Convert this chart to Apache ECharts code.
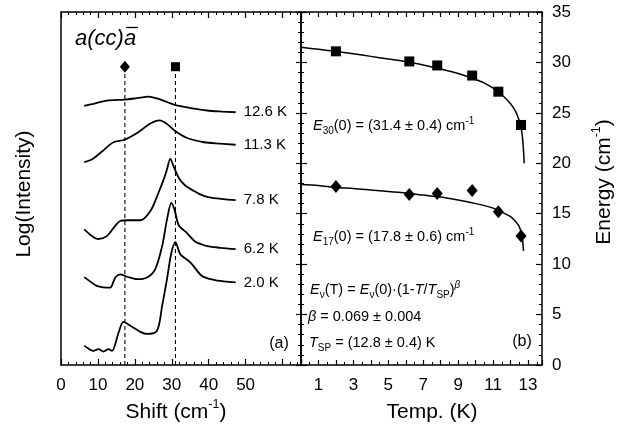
<!DOCTYPE html>
<html><head><meta charset="utf-8">
<script src="https://cdn.jsdelivr.net/npm/echarts@6/dist/echarts.min.js"></script>
<style>html,body{margin:0;padding:0;background:#fff}#c{width:626px;height:435px}</style>
</head><body><div id="c"></div>
<script>
// ---- Panel (a): Raman spectra, shift (cm-1) vs log intensity (arb., offset) ----
const spec126 = [[6.3,73.4],[8.8,74.0],[12.4,74.9],[17.2,75.2],[20.6,75.6],[23.7,76.0],[26.0,75.5],[28.7,74.5],[31.0,73.6],[35.1,72.8],[39.6,72.1],[43.7,71.8],[47.3,71.6]];
const spec113 = [[6.3,57.5],[8.3,58.2],[11.1,60.5],[14.2,63.1],[17.2,63.8],[20.6,65.7],[24.2,68.4],[26.7,69.3],[28.7,68.3],[31.0,66.2],[34.2,64.3],[38.7,63.1],[43.2,62.7],[47.3,62.4]];
const spec78 = [[6.3,38.4],[8.3,36.6],[10.1,35.7],[12.4,36.5],[14.5,39.2],[16.0,40.8],[17.9,41.0],[21.5,41.0],[24.2,43.6],[26.4,48.8],[27.8,52.5],[28.6,55.0],[29.6,58.4],[30.6,56.0],[31.9,53.0],[33.5,51.0],[36.0,49.3],[38.5,48.0],[41.4,47.3],[47.3,46.7]];
const spec62 = [[6.3,24.9],[8.0,23.6],[9.7,22.4],[11.5,22.0],[13.3,21.9],[14.7,24.8],[16.0,25.7],[17.9,25.0],[20.6,24.3],[23.3,24.8],[25.5,27.1],[27.4,33.7],[28.7,41.2],[29.9,45.9],[30.8,43.8],[31.9,39.6],[34.2,37.3],[36.4,34.9],[39.6,33.7],[43.2,33.2],[47.3,32.8]];
const spec20 = [[6.3,5.5],[7.5,4.6],[8.8,4.0],[10.1,4.5],[11.5,3.8],[12.9,4.5],[13.8,4.0],[15.6,9.2],[16.9,12.2],[18.8,11.1],[21.5,9.4],[23.3,8.8],[26.0,9.7],[27.4,16.8],[28.7,24.3],[29.9,31.8],[31.0,34.8],[32.3,31.4],[35.1,29.0],[38.2,25.2],[41.4,24.1],[44.0,23.7],[47.3,23.4]];
const specNames = ['12.6 K','11.3 K','7.8 K','6.2 K','2.0 K'];
const modeShifts = [17.3, 31.0];          // dashed guide lines (diamond, square)
const guideTop = 82.5, guideBottom = 0, markerY = 84.5;
const shiftTicks = [0,10,20,30,40,50];

// ---- Panel (b): mode energy vs temperature ----
const temps = [2.0, 6.2, 7.8, 9.8, 11.3, 12.6];
const e30 = [31.1, 30.1, 29.7, 28.7, 27.1, 23.8];
const e17 = [17.7, 16.9, 17.0, 17.3, 15.2, 12.8];
const fit30 = [[0,31.5],[1,31.3],[2,31.1],[3,30.85],[4,30.6],[5,30.35],[6,30.1],[7,29.75],[8,29.35],[9,28.9],[10,28.3],[10.5,27.95],[11,27.45],[11.5,26.8],[12,25.9],[12.3,25.1],[12.5,24.2],[12.6,23.6],[12.68,22.6],[12.74,21.3],[12.78,20.0]];
const fit17 = [[0,17.9],[1,17.8],[2,17.6],[3,17.5],[4,17.35],[5,17.2],[6,17.05],[7,16.85],[8,16.65],[9,16.35],[10,16.0],[10.5,15.8],[11,15.55],[11.5,15.15],[12,14.7],[12.3,14.2],[12.5,13.7],[12.6,13.2],[12.68,12.5],[12.74,11.3]];
const tempTicks = [1,3,5,7,9,11,13];
const energyTicks = [0,5,10,15,20,25,30,35];

const FONT = '"Liberation Sans", Arial, Helvetica, sans-serif';
const K = '#000';
const axLine = {show:true, onZero:false, lineStyle:{color:K, width:1.5}};
function tick(len){return {show:true, inside:true, length:len, lineStyle:{color:K, width:1.2}};}
function minor(n){return {show:true, splitNumber:n, length:3, lineStyle:{color:K, width:1}};}
const lbl = {color:K, fontFamily:FONT, fontSize:17};
const solid = {color:K, opacity:1};

const chart = echarts.init(document.getElementById('c'), null, {renderer:'canvas'});

const specSeries = [spec126, spec113, spec78, spec62, spec20].map((d,i)=>({
  type:'line', name:specNames[i], xAxisIndex:0, yAxisIndex:0, data:d,
  smooth:0.3, showSymbol:false, symbol:'none', lineStyle:{color:K, width:1.8},
  endLabel:{show:true, formatter:p=>p.seriesName, distance:8, color:K, fontFamily:FONT, fontSize:15},
  animation:false, silent:true
}));
const guideSeries = modeShifts.map(s=>({
  type:'line', xAxisIndex:0, yAxisIndex:0, data:[[s,guideBottom],[s,guideTop]],
  symbol:'none', lineStyle:{color:K, width:1.1, type:[4,3]}, animation:false, silent:true
}));
const markerSeries = [
  {type:'scatter', xAxisIndex:0, yAxisIndex:0, data:[[modeShifts[0], markerY]], symbol:'diamond', symbolSize:[10,12], itemStyle:solid, animation:false},
  {type:'scatter', xAxisIndex:0, yAxisIndex:0, data:[[modeShifts[1], markerY]], symbol:'rect', symbolSize:9, itemStyle:solid, animation:false}
];

const rich = {
  n:{fontFamily:FONT, fontSize:14.5, color:K, lineHeight:20},
  i:{fontFamily:FONT, fontSize:14.5, fontStyle:'italic', color:K, lineHeight:20},
  s:{fontFamily:FONT, fontSize:10, color:K, lineHeight:20, verticalAlign:'bottom'},
  p:{fontFamily:FONT, fontSize:10, color:K, lineHeight:20, verticalAlign:'top'},
  pi:{fontFamily:FONT, fontSize:10, fontStyle:'italic', color:K, lineHeight:20, verticalAlign:'top'}
};
const trich = {
  n:{fontFamily:FONT, fontSize:21, color:K, lineHeight:27},
  p:{fontFamily:FONT, fontSize:12.5, color:K, lineHeight:27, verticalAlign:'top'}
};
function txt(x,y,text,opts){return Object.assign({type:'text', x:x, y:y, style:{text:text, rich:rich, fill:K, font:'14.5px '+FONT, textVerticalAlign:'middle', verticalAlign:'middle'}, silent:true, z:10}, opts||{});}

chart.setOption({
  backgroundColor:'#fff',
  animation:false,
  grid:[
    {left:61, top:12, width:240, height:353},
    {left:301, top:12, width:241, height:353}
  ],
  xAxis:[
    {gridIndex:0, type:'value', min:0, max:65, interval:10, position:'bottom', axisLine:axLine, axisTick:tick(6), minorTick:minor(5), splitLine:{show:false},
     axisLabel:Object.assign({margin:12, formatter:v=>shiftTicks.indexOf(v)>=0?String(v):''}, lbl)},
    {gridIndex:0, type:'value', min:0, max:65, interval:10, position:'top', axisLine:axLine, axisTick:tick(6), minorTick:minor(5), splitLine:{show:false}, axisLabel:{show:false}},
    {gridIndex:1, type:'value', min:0, max:13.8, interval:1, position:'bottom', axisLine:axLine, axisTick:tick(5), minorTick:minor(2), splitLine:{show:false},
     axisLabel:Object.assign({margin:12, formatter:v=>tempTicks.indexOf(v)>=0?String(v):''}, lbl)},
    {gridIndex:1, type:'value', min:0, max:13.8, interval:1, position:'top', axisLine:axLine, axisTick:tick(5), minorTick:minor(2), splitLine:{show:false}, axisLabel:{show:false}}
  ],
  yAxis:[
    {gridIndex:0, type:'value', min:0, max:100, position:'left', axisLine:axLine, axisTick:{show:false}, axisLabel:{show:false}, splitLine:{show:false}},
    {gridIndex:0, type:'value', min:0, max:35, interval:5, position:'right', axisLine:axLine, axisTick:tick(5), minorTick:minor(5), axisLabel:{show:false}, splitLine:{show:false}},
    {gridIndex:1, type:'value', min:0, max:35, interval:5, position:'right', axisLine:axLine, axisTick:tick(6), minorTick:minor(5), splitLine:{show:false},
     axisLabel:Object.assign({margin:10, formatter:v=>energyTicks.indexOf(v)>=0?String(v):''}, lbl)},
    {gridIndex:1, type:'value', min:0, max:35, interval:5, position:'left', axisLine:axLine, axisTick:tick(6), minorTick:minor(5), axisLabel:{show:false}, splitLine:{show:false}}
  ],
  series: specSeries.concat(guideSeries, markerSeries, [
    {type:'line', xAxisIndex:2, yAxisIndex:2, data:fit30, smooth:0.3, symbol:'none', lineStyle:{color:K, width:1.5}, animation:false},
    {type:'line', xAxisIndex:2, yAxisIndex:2, data:fit17, smooth:0.3, symbol:'none', lineStyle:{color:K, width:1.5}, animation:false},
    {type:'scatter', xAxisIndex:2, yAxisIndex:2, data:temps.map((t,i)=>[t,e30[i]]), symbol:'rect', symbolSize:10, itemStyle:solid, z:5},
    {type:'scatter', xAxisIndex:2, yAxisIndex:2, data:temps.map((t,i)=>[t,e17[i]]), symbol:'diamond', symbolSize:[11,13], itemStyle:solid, z:5}
  ]),
  graphic:[
    {type:'text', x:75, y:39, style:{text:'a(cc)a', font:'italic 22px '+FONT, fill:K, textVerticalAlign:'middle', verticalAlign:'middle'}, silent:true},
    {type:'line', shape:{x1:126, y1:27.5, x2:138, y2:27.5}, style:{stroke:K, lineWidth:1.3}, silent:true},
    {type:'text', x:279, y:344, style:{text:'(a)', font:'16px '+FONT, fill:K, align:'center', textAlign:'center', verticalAlign:'middle', textVerticalAlign:'middle'}, silent:true},
    {type:'text', x:522, y:342, style:{text:'(b)', font:'16px '+FONT, fill:K, align:'center', textAlign:'center', verticalAlign:'middle', textVerticalAlign:'middle'}, silent:true},
    txt(313,126,'{i|E}{s|30}{n|(0) = (31.4 ± 0.4) cm}{p|-1}'),
    txt(313,237,'{i|E}{s|17}{n|(0) = (17.8 ± 0.6) cm}{p|-1}'),
    txt(310,290,'{i|E}{s|ν}{n|(T) = }{i|E}{s|ν}{n|(0)·(1-}{i|T}{n|/}{i|T}{s|SP}{n|)}{pi|β}'),
    txt(308,317,'{i|β}{n| = 0.069 ± 0.004}'),
    txt(309,343,'{i|T}{s|SP}{n| = (12.8 ± 0.4) K}'),
    {type:'text', x:176, y:412, style:{text:'{n|Shift (cm}{p|-1}{n|)}', rich:trich, fill:K, align:'center', textAlign:'center', verticalAlign:'middle', textVerticalAlign:'middle'}, silent:true},
    {type:'text', x:432, y:412, style:{text:'{n|Temp. (K)}', rich:trich, fill:K, align:'center', textAlign:'center', verticalAlign:'middle', textVerticalAlign:'middle'}, silent:true},
    {type:'text', x:24, y:194, rotation:Math.PI/2, style:{text:'{n|Log(Intensity)}', rich:trich, fill:K, align:'center', textAlign:'center', verticalAlign:'middle', textVerticalAlign:'middle'}, silent:true},
    {type:'text', x:604, y:182, rotation:Math.PI/2, style:{text:'{n|Energy (cm}{p|-1}{n|)}', rich:trich, fill:K, align:'center', textAlign:'center', verticalAlign:'middle', textVerticalAlign:'middle'}, silent:true}
  ]
});
</script></body></html>
